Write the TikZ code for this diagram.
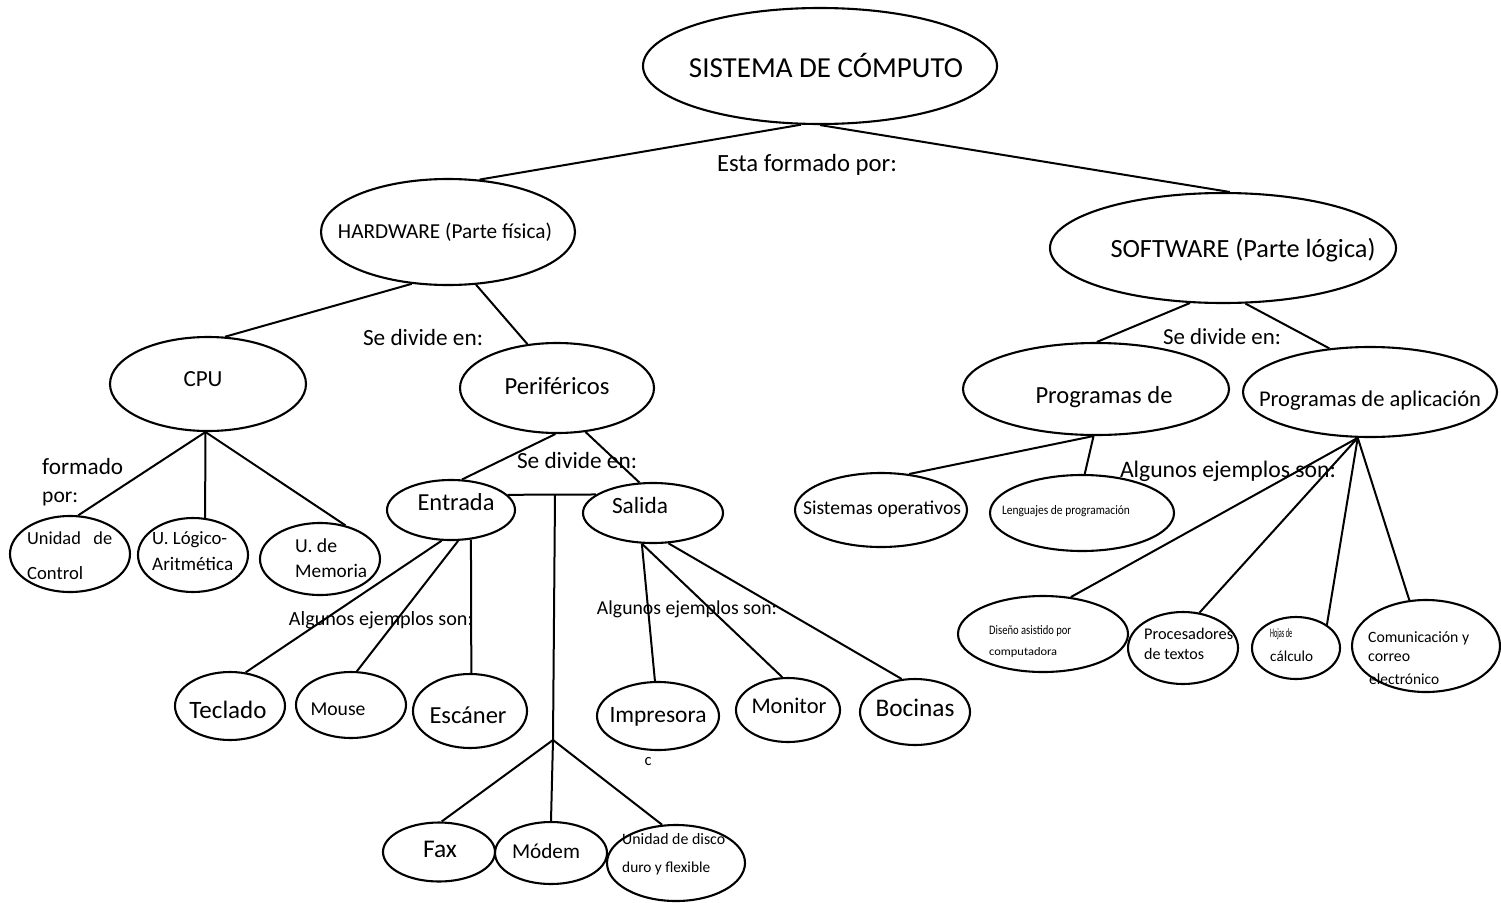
\documentclass[tikz,border=0pt]{standalone}
\usepackage{fontspec}
\setmainfont{Carlito}
\usetikzlibrary{shapes.geometric}
% set a label to an exact width (in pt)
\newcommand{\fw}[2]{\resizebox{#1pt}{!}{#2}}
\begin{document}
\begin{tikzpicture}[x=1pt,y=-1pt,
  ell/.style={draw, ellipse, line width=2.1pt, inner sep=0pt},
  lnk/.style={line width=2pt},
  txt/.style={inner sep=0pt, anchor=center},
  txl/.style={inner sep=0pt, anchor=west}]
\useasboundingbox[fill=white] (0,0) rectangle (1501,902);

% ---------- ellipses ----------
\node[ell, minimum width=354pt, minimum height=116pt] (sis)   at (820,66)  {};
\node[ell, minimum width=254pt, minimum height=106pt] (hw)    at (448,232) {};
\node[ell, minimum width=346pt, minimum height=110pt] (sw)    at (1223,248) {};
\node[ell, minimum width=196pt, minimum height=94pt]  (cpu)   at (208,384) {};
\node[ell, minimum width=194pt, minimum height=90pt]  (peri)  at (557,388) {};
\node[ell, minimum width=120pt, minimum height=76pt]  (uc)    at (70,554)  {};
\node[ell, minimum width=110pt, minimum height=74pt]  (ula)   at (193,555) {};
\node[ell, minimum width=120pt, minimum height=72pt]  (umem)  at (320,559) {};
\node[ell, minimum width=128pt, minimum height=60pt]  (ent)   at (451,510) {};
\node[ell, minimum width=140pt, minimum height=60pt]  (sal)   at (653,513) {};
\node[ell, minimum width=110pt, minimum height=68pt]  (tec)   at (230,706) {};
\node[ell, minimum width=110pt, minimum height=66pt]  (mou)   at (351,705) {};
\node[ell, minimum width=114pt, minimum height=74pt]  (esc)   at (470,711) {};
\node[ell, minimum width=122pt, minimum height=68pt]  (imp)   at (658,716) {};
\node[ell, minimum width=104pt, minimum height=64pt]  (mon)   at (788,710) {};
\node[ell, minimum width=110pt, minimum height=66pt]  (boc)   at (915,712) {};
\node[ell, minimum width=112pt, minimum height=59pt]  (fax)   at (439,852) {};
\node[ell, minimum width=112pt, minimum height=62pt]  (mod)   at (551,853) {};
\node[ell, minimum width=138pt, minimum height=76pt]  (dis)   at (676,863) {};
\node[ell, minimum width=266pt, minimum height=92pt]  (progs) at (1096,389) {};
\node[ell, minimum width=254pt, minimum height=90pt]  (app)   at (1370,392) {};
\node[ell, minimum width=172pt, minimum height=74pt]  (sop)   at (881,510) {};
\node[ell, minimum width=184pt, minimum height=76pt]  (len)   at (1082,513) {};
\node[ell, minimum width=170pt, minimum height=76pt]  (cad)   at (1043,634) {};
\node[ell, minimum width=110pt, minimum height=72pt]  (proc)  at (1183,648) {};
\node[ell, minimum width=88pt,  minimum height=62pt]  (hoj)   at (1296,648) {};
\node[ell, minimum width=148pt, minimum height=92pt]  (com)   at (1426,646) {};

% junction points of the shared branch
\coordinate (jt) at (555,495);
\coordinate (jb) at (553,740);

% ---------- connectors ----------
\draw[lnk] (sis.-108) -- (hw.59);
\draw[lnk] (sis.-90)  -- (sw.83);
\draw[lnk] (hw.-125)  -- (cpu.70);
\draw[lnk] (hw.-62)   -- (peri.124);
\draw[lnk] (cpu.-93)  -- (uc.78);
\draw[lnk] (cpu.-93)  -- (ula.72);
\draw[lnk] (cpu.-93)  -- (umem.53);
\draw[lnk] (peri.-92) -- (ent.70);
\draw[lnk] (peri.-57) -- (sal.114);
\draw[lnk] (ent.15)   -- (sal.162);
\draw[lnk] (jt) -- (jb);
\draw[lnk] (jb) -- (fax.85);
\draw[lnk] (jb) -- (mod.90);
\draw[lnk] (jb) -- (dis.110);
\draw[lnk] (ent.-107) -- (tec.65);
\draw[lnk] (ent.-77)  -- (mou.80);
\draw[lnk] (ent.-56)  -- (esc.88);
\draw[lnk] (sal.-110) -- (imp.95);
\draw[lnk] (sal.-110) -- (mon.100);
\draw[lnk] (sal.-63)  -- (boc.112);
\draw[lnk] (sw.-121)  -- (progs.89);
\draw[lnk] (sw.-68)   -- (app.133);
\draw[lnk] (progs.-93) -- (sop.52);
\draw[lnk] (progs.-93) -- (len.86);
\draw[lnk] (app.-105) -- (cad.53);
\draw[lnk] (app.-105) -- (proc.65);
\draw[lnk] (app.-105) -- (hoj.37);
\draw[lnk] (app.-105) -- (com.110);

% ---------- texts ----------
\node[txt] (t-sis)  at (826,65)  {\fw{274}{SISTEMA DE CÓMPUTO}};
\node[txt] (t-est)  at (807,165) {\fw{180}{Esta formado por:}};
\node[txt] (t-hw)   at (445,232) {\fw{214}{HARDWARE (Parte física)}};
\node[txt] (t-sw)   at (1243,250) {\fw{265}{SOFTWARE (Parte lógica)}};
\node[txt] (t-sd1)  at (423,338) {\fw{120}{Se divide en:}};
\node[txt] (t-cpu)  at (203,379) {\fw{39}{CPU}};
\node[txt] (t-per)  at (557,386) {\fw{105}{Periféricos}};
\node[txl] (t-fo1)  at (42,467)  {\fw{81}{formado}};
\node[txl] (t-fo2)  at (42,499)  {\fw{36}{por:}};
\node[txl] (t-uc1)  at (27,538)  {\fw{85}{Unidad\ \ \ de}};
\node[txl] (t-uc2)  at (27,573)  {\fw{56}{Control}};
\node[txl] (t-ul1)  at (152,540) {\fw{75}{U. Lógico-}};
\node[txl] (t-ul2)  at (152,564) {\fw{81}{Aritmética}};
\node[txl] (t-um1)  at (295,546) {\fw{42}{U. de}};
\node[txl] (t-um2)  at (295,571) {\fw{72}{Memoria}};
\node[txt] (t-sd2)  at (577,461) {\fw{120}{Se divide en:}};
\node[txt] (t-ent)  at (456,502) {\fw{77}{Entrada}};
\node[txt] (t-sal)  at (640,505) {\fw{56}{Salida}};
\node[txt] (t-ae1)  at (381,620) {\fw{184}{Algunos ejemplos son:}};
\node[txt] (t-ae2)  at (687,609) {\fw{180}{Algunos ejemplos son:}};
\node[txt] (t-tec)  at (228,710) {\fw{77}{Teclado}};
\node[txt] (t-mou)  at (338,709) {\fw{55}{Mouse}};
\node[txt] (t-esc)  at (468,715) {\fw{77}{Escáner}};
\node[txt] (t-imp)  at (658,717) {\fw{97}{Impresora}};
\node[txt] (t-mon)  at (789,706) {\fw{75}{Monitor}};
\node[txt] (t-boc)  at (915,708) {\fw{79}{Bocinas}};
\node[txt] (t-c)    at (648,762) {\fw{7}{c}};
\node[txt] (t-fax)  at (440,849) {\fw{34}{Fax}};
\node[txt] (t-mod)  at (546,851) {\fw{68}{Módem}};
\node[txl] (t-di1)  at (622,839) {\fw{103}{Unidad de disco}};
\node[txl] (t-di2)  at (622,868) {\fw{88}{duro y flexible}};
\node[txt] (t-sd3)  at (1222,337) {\fw{118}{Se divide en:}};
\node[txt] (t-pde)  at (1104,397) {\fw{137}{Programas de}};
\node[txt] (t-app)  at (1370,401) {\fw{222}{Programas de aplicación}};
\node[txt] (t-ae3)  at (1228,471) {\fw{216}{Algunos ejemplos son:}};
\node[txt] (t-sop)  at (882,509) {\fw{158}{Sistemas operativos}};
\node[txt] (t-len)  at (1066,511) {\resizebox{128pt}{9pt}{Lenguajes de programación}};
\node[txl] (t-ca1)  at (989,631) {\resizebox{82pt}{9pt}{Diseño asistido por}};
\node[txl] (t-ca2)  at (989,652) {\resizebox{68pt}{8pt}{computadora}};
\node[txl] (t-pr1)  at (1144,634) {\fw{89}{Procesadores}};
\node[txl] (t-pr2)  at (1144,654) {\fw{60}{de textos}};
\node[txl] (t-ho1)  at (1270,634) {\resizebox{22pt}{9pt}{Hojas de}};
\node[txl] (t-ho2)  at (1270,656) {\fw{43}{cálculo}};
\node[txl] (t-co1)  at (1368,638) {\fw{101}{Comunicación y}};
\node[txl] (t-co2)  at (1368,658) {\fw{42}{correo}};
\node[txl] (t-co3)  at (1369,679) {\fw{70}{electrónico}};
\end{tikzpicture}
\end{document}
